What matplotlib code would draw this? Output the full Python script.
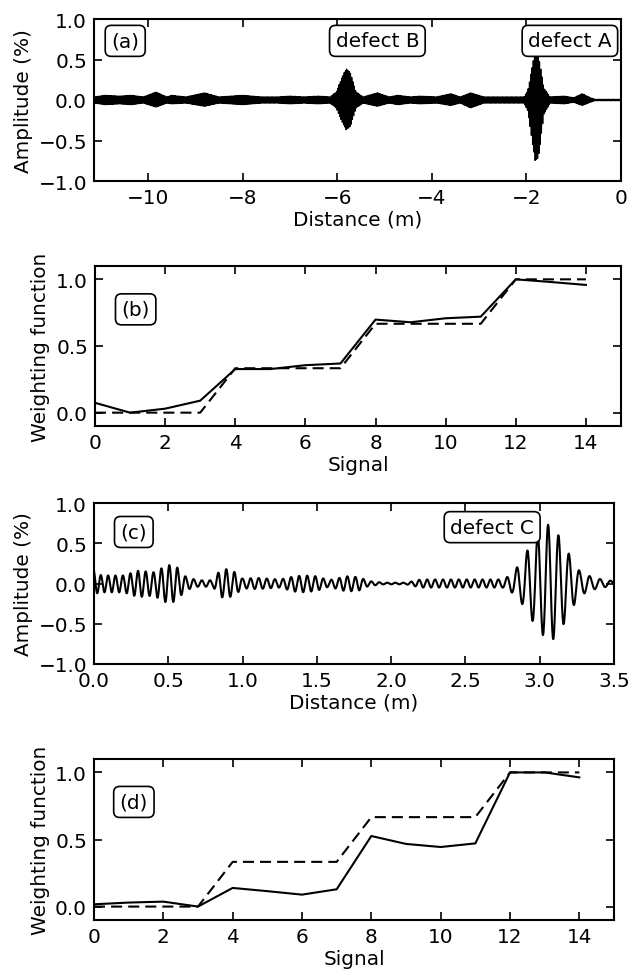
import numpy as np
import matplotlib
matplotlib.use("Agg")
import matplotlib.pyplot as plt

plt.rcParams['font.family'] = ['DejaVu Sans']
plt.rcParams['font.size'] = 14.4

# ---- panel (a): guided-wave signal, envelope ----
a_x = [-11.14, -10.9, -10.6, -10.35, -10.1, -9.83, -9.6, -9.5, -9.2, -8.8, -8.5,
       -8.0, -7.6, -7.25, -7.0, -6.7, -6.4, -6.15, -6.02, -5.9, -5.81, -5.72, -5.6,
       -5.45, -5.15, -4.9, -4.72, -4.45, -4.25, -3.9, -3.6, -3.4, -3.18, -2.9,
       -2.6, -2.3, -2.05, -1.97, -1.87, -1.81, -1.74, -1.63, -1.5, -1.2, -1.0,
       -0.82, -0.65, -0.55, 0.0]
a_hi = [0.04, 0.06, 0.05, 0.06, 0.04, 0.10, 0.04, 0.06, 0.04, 0.09, 0.04,
        0.06, 0.04, 0.04, 0.05, 0.04, 0.05, 0.04, 0.10, 0.28, 0.39, 0.34, 0.10,
        0.04, 0.09, 0.04, 0.06, 0.04, 0.05, 0.04, 0.08, 0.04, 0.09, 0.04,
        0.04, 0.04, 0.04, 0.12, 0.45, 0.60, 0.55, 0.15, 0.04, 0.05, 0.03,
        0.08, 0.03, 0.01, 0.01]
a_lo = [0.04, 0.06, 0.05, 0.06, 0.04, 0.09, 0.04, 0.05, 0.04, 0.08, 0.04,
        0.06, 0.04, 0.04, 0.05, 0.04, 0.05, 0.04, 0.10, 0.27, 0.37, 0.33, 0.10,
        0.04, 0.08, 0.04, 0.06, 0.04, 0.05, 0.04, 0.07, 0.04, 0.10, 0.04,
        0.04, 0.04, 0.04, 0.14, 0.55, 0.77, 0.70, 0.18, 0.04, 0.05, 0.03,
        0.07, 0.03, 0.01, 0.01]
a_wavelength = 0.027

# ---- panel (b): weighting function ----
b_signal = list(range(15))
b_weight = [0.074, 0.0, 0.03, 0.09, 0.327, 0.327, 0.356, 0.369,
            0.698, 0.678, 0.708, 0.72, 1.0, 0.98, 0.958]
b_ideal = [0, 0, 0, 0, 1/3, 1/3, 1/3, 1/3, 2/3, 2/3, 2/3, 2/3, 1, 1, 1]

# ---- panel (c): signal, envelope and carrier wavelength ----
c_x = [0.0, 0.05, 0.2, 0.3, 0.4, 0.5, 0.55, 0.62, 0.7, 0.8, 0.85, 0.9, 0.95,
       1.0, 1.1, 1.25, 1.35, 1.42, 1.5, 1.58, 1.7, 1.78, 1.85, 1.95, 2.1,
       2.2, 2.5, 2.75, 2.82, 2.88, 2.93, 2.98, 3.03, 3.08, 3.12, 3.17, 3.22,
       3.27, 3.35, 3.42, 3.5]
c_hi = [0.16, 0.10, 0.10, 0.16, 0.14, 0.23, 0.22, 0.08, 0.04, 0.04, 0.17, 0.18, 0.14,
        0.06, 0.07, 0.05, 0.09, 0.10, 0.09, 0.04, 0.09, 0.08, 0.03, 0.01, 0.01,
        0.05, 0.05, 0.05, 0.12, 0.30, 0.45, 0.60, 0.72, 0.74, 0.62, 0.45, 0.30,
        0.15, 0.08, 0.05, 0.03]
c_lo = [0.13, 0.11, 0.11, 0.17, 0.15, 0.25, 0.22, 0.08, 0.04, 0.04, 0.17, 0.18, 0.14,
        0.06, 0.07, 0.05, 0.10, 0.11, 0.09, 0.04, 0.10, 0.09, 0.03, 0.01, 0.01,
        0.05, 0.05, 0.05, 0.12, 0.25, 0.40, 0.55, 0.66, 0.72, 0.62, 0.48, 0.30,
        0.15, 0.08, 0.05, 0.03]
c_wl_x = [0.0, 0.6, 2.7, 2.85, 3.5]
c_wl = [0.048, 0.055, 0.053, 0.07, 0.07]

# ---- panel (d): weighting function ----
d_signal = list(range(15))
d_weight = [0.017, 0.03, 0.037, 0.0, 0.139, 0.115, 0.089, 0.129,
            0.526, 0.467, 0.444, 0.471, 1.0, 1.0, 0.963]
d_ideal = [0, 0, 0, 0, 1/3, 1/3, 1/3, 1/3, 2/3, 2/3, 2/3, 2/3, 1, 1, 1]


def wave(xs, ex, hi, lo, phase):
    up = np.interp(xs, ex, hi)
    dn = np.interp(xs, ex, lo)
    s = np.sin(phase)
    return np.where(s >= 0, up * s, dn * s)


def style(ax):
    ax.tick_params(direction='in', top=True, right=True, length=6, width=1.2, pad=5)
    for sp in ax.spines.values():
        sp.set_linewidth(1.5)


box = dict(boxstyle='round,pad=0.3', fc='white', ec='black', lw=1.2)
dash = (5.3, 2.9)
W, H = 631, 970
fig = plt.figure(figsize=(6.31, 9.70), dpi=100)


def axes_px(left, top, right, bottom):
    return fig.add_axes([left / W, 1 - bottom / H, (right - left) / W, (bottom - top) / H])


# (a)
ax = axes_px(94, 20, 621, 182)
xa = np.arange(a_x[0], 0.0, 0.002)
ya = wave(xa, a_x, a_hi, a_lo, 2 * np.pi * xa / a_wavelength)
ax.plot(xa, ya, color='black', lw=0.8)
ax.set_xlim(-11.14, 0)
ax.set_ylim(-1, 1)
ax.set_xticks([-10, -8, -6, -4, -2, 0])
ax.set_yticks([-1.0, -0.5, 0.0, 0.5, 1.0])
ax.set_xlabel('Distance (m)', labelpad=2)
ax.set_ylabel('Amplitude (%)')
ax.text(-10.48, 0.73, '(a)', ha='center', va='center', bbox=box, zorder=5)
ax.text(-5.15, 0.73, 'defect B', ha='center', va='center', bbox=box, zorder=5)
ax.text(-1.08, 0.73, 'defect A', ha='center', va='center', bbox=box, zorder=5)
style(ax)

# (b)
ax = axes_px(95, 267, 621, 427)
ax.plot(b_signal, b_weight, color='black', lw=1.5)
ax.plot(b_signal, b_ideal, color='black', lw=1.5, ls='--', dashes=dash)
ax.set_xlim(0, 15)
ax.set_ylim(-0.1, 1.1)
ax.set_xticks(range(0, 15, 2))
ax.set_yticks([0.0, 0.5, 1.0])
ax.set_xlabel('Signal', labelpad=2)
ax.set_ylabel('Weighting function')
ax.text(1.16, 0.775, '(b)', ha='center', va='center', bbox=box)
style(ax)

# (c)
ax = axes_px(94, 504, 614, 665)
xc = np.arange(0.0, 3.5, 0.002)
phase_c = 2 * np.pi * np.cumsum(0.002 / np.interp(xc, c_wl_x, c_wl)) + np.pi / 2
yc = wave(xc, c_x, c_hi, c_lo, phase_c)
ax.plot(xc, yc, color='black', lw=1.5)
ax.set_xlim(0, 3.5)
ax.set_ylim(-1, 1)
ax.set_xticks(np.arange(0, 3.51, 0.5))
ax.set_yticks([-1.0, -0.5, 0.0, 0.5, 1.0])
ax.set_xlabel('Distance (m)', labelpad=2)
ax.set_ylabel('Amplitude (%)')
ax.text(0.268, 0.64, '(c)', ha='center', va='center', bbox=box, zorder=5)
ax.text(2.68, 0.70, 'defect C', ha='center', va='center', bbox=box, zorder=5)
style(ax)

# (d)
ax = axes_px(94, 760, 614, 921)
ax.plot(d_signal, d_weight, color='black', lw=1.5)
ax.plot(d_signal, d_ideal, color='black', lw=1.5, ls='--', dashes=dash)
ax.set_xlim(0, 15)
ax.set_ylim(-0.1, 1.1)
ax.set_xticks(range(0, 15, 2))
ax.set_yticks([0.0, 0.5, 1.0])
ax.set_xlabel('Signal', labelpad=2)
ax.set_ylabel('Weighting function')
ax.text(1.15, 0.78, '(d)', ha='center', va='center', bbox=box)
style(ax)

fig.savefig('out.png', dpi=100)
